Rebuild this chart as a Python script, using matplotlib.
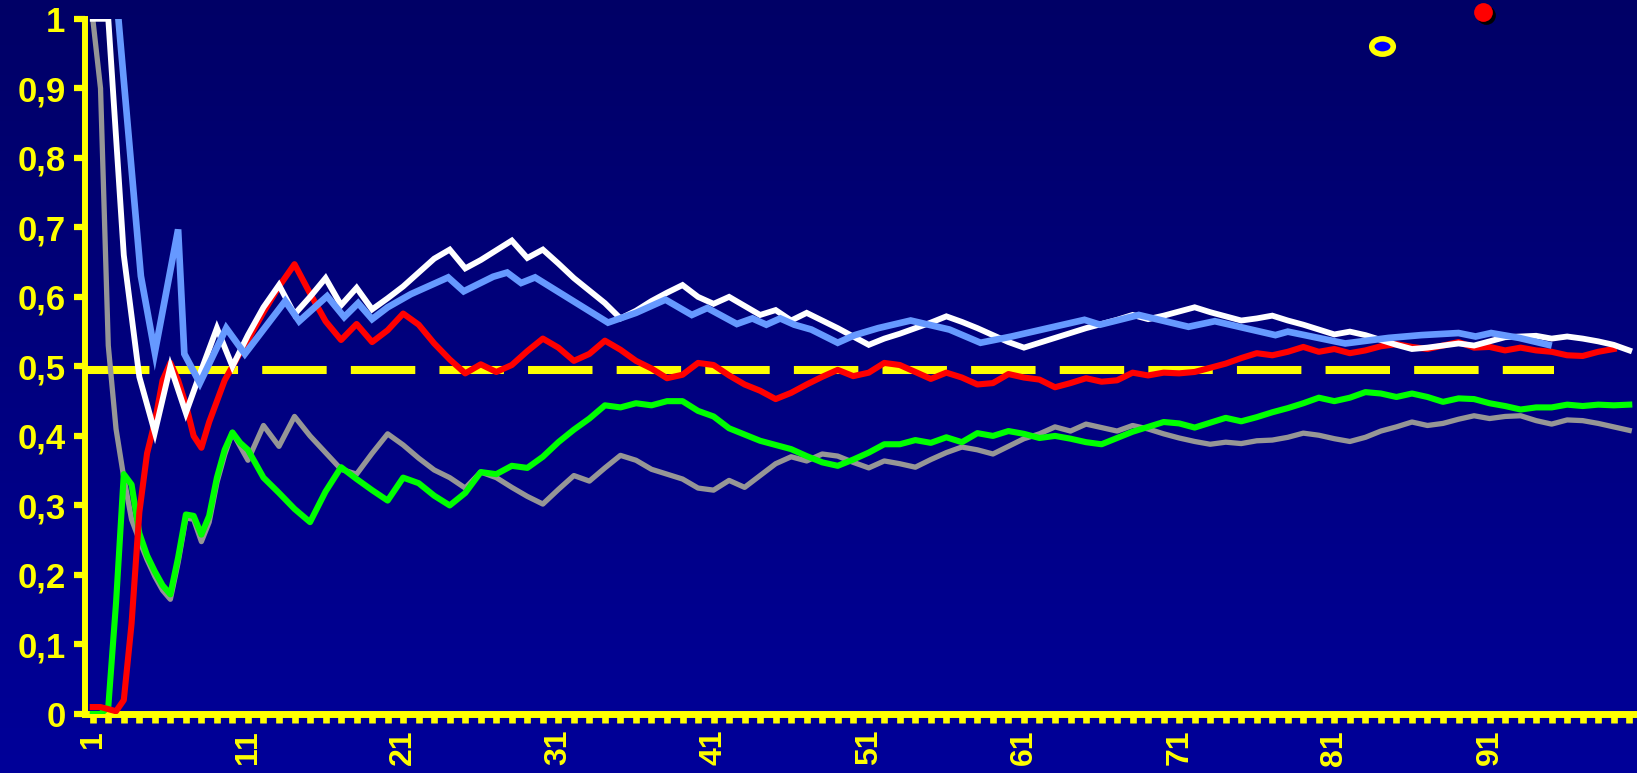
import numpy as np
import matplotlib
matplotlib.use("Agg")
import matplotlib.pyplot as plt
from matplotlib.colors import LinearSegmentedColormap
from matplotlib.path import Path
from matplotlib.transforms import offset_copy

# ──────────────────────────────────────────────
# Data
# ──────────────────────────────────────────────

# red / green / gray: half steps up to 10.5, then one point per trial
x_fine = np.concatenate([np.arange(1, 11, 0.5), np.arange(11, 101)])
x_white = np.arange(1, 101)

white = [1.0, 1.0, 0.66, 0.485, 0.405, 0.50, 0.433, 0.495, 0.555, 0.50,
         0.545, 0.585, 0.617, 0.575, 0.60, 0.627, 0.588, 0.613, 0.582, 0.598, 0.615,
         0.635, 0.655, 0.668, 0.641, 0.653, 0.667, 0.681, 0.656, 0.668, 0.648,
         0.627, 0.609, 0.591, 0.569, 0.580, 0.594, 0.606, 0.617, 0.600, 0.590,
         0.600, 0.587, 0.574, 0.581, 0.566, 0.577, 0.566, 0.555, 0.543, 0.531,
         0.540, 0.547, 0.555, 0.563, 0.572, 0.564, 0.555, 0.545, 0.535, 0.527,
         0.534, 0.541, 0.548, 0.555, 0.561, 0.567, 0.574, 0.568, 0.573, 0.579,
         0.585, 0.578, 0.572, 0.566, 0.569, 0.573, 0.566, 0.560, 0.553, 0.546,
         0.550, 0.545, 0.538, 0.531, 0.525, 0.527, 0.530, 0.533, 0.530, 0.536,
         0.542, 0.543, 0.544, 0.540, 0.543, 0.540, 0.536, 0.531, 0.523]

blue_x = [2.3, 4.1, 5.0, 6.5, 6.9, 7.9, 9.6, 10.8, 13.4, 14.3, 16.1, 17.2, 18.1,
          19.0, 20.0, 21.5, 23.9, 24.9, 26.8, 27.7, 28.6, 29.5, 34.2, 36.0, 37.9,
          39.6, 40.6, 42.5, 43.5, 44.4, 45.3, 46.2, 47.3, 49.0, 50.1, 51.6, 53.7,
          56.2, 58.2, 60.2, 64.9, 65.9, 68.4, 71.6, 73.3, 77.2, 78.0, 81.7, 84.5,
          86.6, 89.0, 90.1, 91.1, 92.9, 94.8]
blue = [1.09, 0.63, 0.52, 0.697, 0.518, 0.476, 0.555, 0.518, 0.594, 0.565, 0.601,
        0.571, 0.591, 0.568, 0.585, 0.604, 0.628, 0.608, 0.629, 0.635, 0.62, 0.628,
        0.563, 0.577, 0.596, 0.574, 0.584, 0.561, 0.569, 0.560, 0.569, 0.56, 0.553,
        0.534, 0.545, 0.555, 0.566, 0.553, 0.534, 0.543, 0.567, 0.560, 0.574, 0.557,
        0.565, 0.545, 0.550, 0.533, 0.541, 0.545, 0.548, 0.543, 0.548, 0.541, 0.531]

red = [0.01, 0.01, 0.007, 0.004, 0.02, 0.13, 0.29, 0.375, 0.42, 0.48,
       0.505, 0.48, 0.445, 0.40, 0.383, 0.42, 0.45, 0.48, 0.50, 0.52,
       0.538, 0.578, 0.615, 0.647, 0.605, 0.565, 0.538, 0.561, 0.535, 0.552, 0.576,
       0.560, 0.533, 0.510, 0.490, 0.503, 0.492, 0.502, 0.522, 0.540, 0.527,
       0.508, 0.518, 0.537, 0.524, 0.508, 0.497, 0.483, 0.488, 0.505, 0.502,
       0.487, 0.474, 0.465, 0.453, 0.462, 0.474, 0.485, 0.495, 0.486, 0.491,
       0.505, 0.502, 0.492, 0.482, 0.491, 0.484, 0.474, 0.476, 0.489, 0.484,
       0.481, 0.470, 0.476, 0.483, 0.478, 0.480, 0.491, 0.487, 0.491, 0.490,
       0.492, 0.498, 0.504, 0.512, 0.519, 0.516, 0.521, 0.528, 0.521, 0.525,
       0.519, 0.523, 0.529, 0.532, 0.528, 0.525, 0.530, 0.535, 0.527, 0.528,
       0.523, 0.527, 0.523, 0.521, 0.516, 0.515, 0.521, 0.525]

green = [0.0, 0.0, 0.01, 0.16, 0.345, 0.33, 0.26, 0.228, 0.205, 0.185,
         0.172, 0.225, 0.287, 0.285, 0.258, 0.285, 0.34, 0.38, 0.405, 0.39,
         0.38, 0.34, 0.318, 0.295, 0.276, 0.32, 0.355, 0.338, 0.322, 0.307, 0.340,
         0.332, 0.314, 0.300, 0.318, 0.348, 0.345, 0.357, 0.354, 0.370, 0.391,
         0.409, 0.425, 0.444, 0.441, 0.447, 0.444, 0.450, 0.450, 0.436, 0.428,
         0.411, 0.402, 0.393, 0.387, 0.381, 0.371, 0.362, 0.357, 0.366, 0.376,
         0.388, 0.388, 0.394, 0.390, 0.398, 0.391, 0.404, 0.400, 0.407, 0.403,
         0.397, 0.400, 0.396, 0.391, 0.388, 0.397, 0.406, 0.413, 0.420, 0.418,
         0.412, 0.419, 0.426, 0.421, 0.427, 0.434, 0.440, 0.447, 0.455, 0.450,
         0.455, 0.463, 0.461, 0.456, 0.461, 0.456, 0.449, 0.454, 0.453, 0.447,
         0.443, 0.438, 0.441, 0.441, 0.445, 0.443, 0.445, 0.444, 0.445]

gray = [1.0, 0.9, 0.53, 0.41, 0.34, 0.28, 0.25, 0.222, 0.198, 0.178,
        0.165, 0.218, 0.282, 0.28, 0.248, 0.276, 0.333, 0.373, 0.405, 0.385,
        0.365, 0.415, 0.385, 0.428, 0.40, 0.376, 0.352, 0.345, 0.375, 0.403, 0.387,
        0.368, 0.351, 0.340, 0.325, 0.348, 0.340, 0.326, 0.313, 0.302, 0.323,
        0.343, 0.335, 0.354, 0.372, 0.365, 0.352, 0.345, 0.338, 0.325, 0.322,
        0.336, 0.326, 0.343, 0.360, 0.370, 0.364, 0.374, 0.371, 0.362, 0.354,
        0.364, 0.360, 0.355, 0.366, 0.376, 0.384, 0.380, 0.374, 0.385, 0.396,
        0.403, 0.413, 0.407, 0.417, 0.412, 0.407, 0.415, 0.410, 0.403, 0.397,
        0.392, 0.388, 0.391, 0.389, 0.393, 0.394, 0.398, 0.404, 0.401, 0.396,
        0.392, 0.398, 0.407, 0.413, 0.420, 0.415, 0.418, 0.424, 0.429, 0.425,
        0.428, 0.429, 0.422, 0.417, 0.423, 0.422, 0.418, 0.413, 0.408]

ref_level = 0.495
ref_span = (0.5, 95.15)

ring_point = (84.1, 0.961)
dot_point = (90.6, 1.010)

y_ticks = [0, 0.1, 0.2, 0.3, 0.4, 0.5, 0.6, 0.7, 0.8, 0.9, 1]
y_labels = ["0", "0,1", "0,2", "0,3", "0,4", "0,5", "0,6", "0,7", "0,8", "0,9", "1"]
x_ticks = list(range(1, 101))
x_labels = [str(t) if t % 10 == 1 else "" for t in x_ticks]

YELLOW = "#ffff00"

# ──────────────────────────────────────────────
# Figure
# ──────────────────────────────────────────────

plt.rcParams["font.family"] = ["Liberation Sans", "DejaVu Sans"]
fig = plt.figure(figsize=(16.37, 7.73), dpi=100)

# vertical background gradient
bg = fig.add_axes([0, 0, 1, 1], zorder=0)
grad = LinearSegmentedColormap.from_list("bg", ["#000066", "#000099"])
bg.imshow(np.linspace(0, 1, 256).reshape(-1, 1), cmap=grad, aspect="auto",
          extent=[0, 1, 0, 1])
bg.axis("off")

ax = fig.add_axes([85 / 1637, 59 / 773, 1552 / 1637, 695.2 / 773], zorder=1)
ax.set_facecolor("none")
ax.set_xlim(0.5, 100.5)
ax.set_ylim(0, 1)

ax.hlines(ref_level, *ref_span, colors=YELLOW, linewidth=5.8,
          linestyles=[(0, (8, 3))], zorder=2)

ax.plot(x_fine[:len(gray)], gray, color="#969696", lw=3.8, zorder=3,
        solid_joinstyle="round")
ax.plot(x_fine[:len(green)], green, color="#00ff00", lw=4.4, zorder=4,
        solid_joinstyle="round")
ax.plot(x_fine[:len(red)], red, color="#ff0000", lw=4.4, zorder=5,
        solid_joinstyle="round")
ax.plot(x_white, white, color="#ffffff", lw=4.2, zorder=6,
        solid_joinstyle="miter")
ax.plot(blue_x, blue, color="#6699ff", lw=4.8, zorder=7,
        solid_joinstyle="miter")

# ellipse ring marker and red dot with shadow, drawn above the plot area
circ = Path.unit_circle()
ellipse = Path(circ.vertices * np.array([1.0, 0.71]), circ.codes)
ax.plot(*ring_point, marker=ellipse, ms=15.5, mfc="#0000ff", mec=YELLOW,
        mew=4.0, clip_on=False, zorder=8)
shadow = offset_copy(ax.transData, fig=fig, x=3, y=-3, units="dots")
ax.plot(*dot_point, marker="o", ms=13.5, mfc="black", mec="none",
        transform=shadow, clip_on=False, zorder=8)
ax.plot(*dot_point, marker="o", ms=13.5, mfc="#ff0000", mec="none",
        clip_on=False, zorder=9)

# axes styling
for side in ["top", "right"]:
    ax.spines[side].set_visible(False)
ax.spines["left"].set_color(YELLOW)
ax.spines["left"].set_linewidth(4.3)
ax.spines["bottom"].set_color(YELLOW)
ax.spines["bottom"].set_linewidth(5.0)

ax.set_yticks(y_ticks)
ax.set_yticklabels(y_labels)
ax.set_xticks(x_ticks)
ax.set_xticklabels(x_labels, rotation=90)

ax.tick_params(axis="y", direction="out", length=8, width=4.5, color=YELLOW,
               labelcolor=YELLOW, labelsize=25, pad=6)
ax.tick_params(axis="x", direction="out", length=6.5, width=4.8, color=YELLOW,
               labelcolor=YELLOW, labelsize=23, pad=5)
for lab in ax.get_xticklabels() + ax.get_yticklabels():
    lab.set_fontweight("bold")

fig.savefig("out.png", dpi=100)
plt.close(fig)
